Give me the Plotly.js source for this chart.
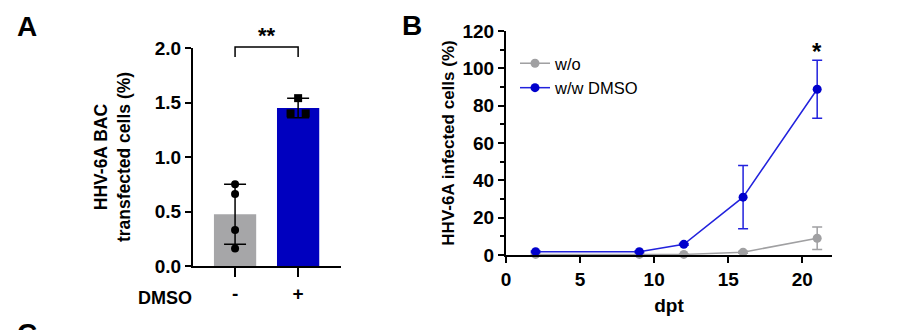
<!DOCTYPE html>
<html>
<head>
<meta charset="utf-8">
<script src="https://cdn.plot.ly/plotly-3.0.1.min.js"></script>
<style>html,body{margin:0;padding:0;background:#fff;}#chart{width:920px;height:330px;}</style>
</head>
<body>
<div id="chart"></div>
<script>
// Panel A data
const aCategories = ['-', '+'];
const aMeans = [0.475, 1.45];
const aSD = [0.275, 0.09];
const aPointsNeg = [0.75, 0.66, 0.33, 0.16];
const aPointsPos = [1.54, 1.40, 1.40];
const aJitterPos = [0, -0.12, 0.12];
// Panel B data
const bDays = [2, 9, 12, 16, 21];
const bWoMean = [0.3, 0.3, 0.3, 1.5, 9];
const bWoSD = [0.2, 0.2, 0.2, 0.5, 6];
const bDmsoMean = [1.8, 1.8, 5.7, 31, 88.8];
const bDmsoSD = [0.3, 0.3, 0.5, 17, 15.5];

const W = 920, H = 330;
const px = v => v / W;
const py = v => 1 - v / H;
const FONT = 'Liberation Sans, Arial, sans-serif';
const bold = (size) => ({family: FONT, size: size, color: '#000', weight: 'bold'});

const traces = [
  {
    type: 'bar', x: [0, 1], y: aMeans, xaxis: 'x', yaxis: 'y',
    width: 0.67,
    marker: {color: ['#a6a6a8', '#0000bf'], line: {width: 0}},
    error_y: {type: 'data', array: aSD, visible: true, color: '#000', thickness: 1.5, width: 11},
    showlegend: false, hoverinfo: 'skip'
  },
  {
    type: 'scatter', mode: 'markers', x: aPointsNeg.map(() => 0), y: aPointsNeg,
    xaxis: 'x', yaxis: 'y',
    marker: {symbol: 'circle', size: 8, color: '#000'}, showlegend: false, hoverinfo: 'skip'
  },
  {
    type: 'scatter', mode: 'markers', x: aJitterPos.map(j => 1 + j), y: aPointsPos,
    xaxis: 'x', yaxis: 'y',
    marker: {symbol: 'square', size: 8, color: '#000'}, showlegend: false, hoverinfo: 'skip'
  },
  {
    type: 'scatter', mode: 'lines+markers', name: 'w/o', x: bDays, y: bWoMean,
    xaxis: 'x2', yaxis: 'y2',
    line: {color: '#a0a0a2', width: 1.5},
    marker: {color: '#a0a0a2', size: 9},
    error_y: {type: 'data', array: bWoSD, visible: true, color: '#a0a0a2', thickness: 1.5, width: 5},
    cliponaxis: false
  },
  {
    type: 'scatter', mode: 'lines+markers', name: 'w/w DMSO', x: bDays, y: bDmsoMean,
    xaxis: 'x2', yaxis: 'y2',
    line: {color: '#2222dd', width: 1.5},
    marker: {color: '#0000cc', size: 9},
    error_y: {type: 'data', array: bDmsoSD, visible: true, color: '#2222dd', thickness: 1.5, width: 5},
    cliponaxis: false
  }
];

const axisCommon = {
  showline: true, linecolor: '#000', linewidth: 2,
  ticks: 'outside', tickcolor: '#000', tickwidth: 2, ticklen: 6,
  showgrid: false, zeroline: false, tickfont: bold(19), fixedrange: true
};

const layout = {
  width: W, height: H,
  margin: {l: 0, r: 0, t: 0, b: 0},
  paper_bgcolor: '#fff', plot_bgcolor: 'rgba(0,0,0,0)',
  font: {family: FONT, color: '#000'},
  xaxis: Object.assign({}, axisCommon, {
    domain: [px(193), px(341)], range: [-0.667, 1.68],
    tickmode: 'array', tickvals: [0, 1], ticktext: aCategories, ticklen: 9,
    tickfont: bold(19), anchor: 'y'
  }),
  yaxis: Object.assign({}, axisCommon, {
    domain: [py(266), py(48)], range: [0, 2], dtick: 0.5, tickformat: '.1f', anchor: 'x',
    title: {text: 'HHV-6A BAC<br>transfected cells (%)', font: bold(17.5), standoff: 20}
  }),
  xaxis2: Object.assign({}, axisCommon, {
    domain: [px(506), px(832)], range: [0, 22], dtick: 5, anchor: 'y2',
    title: {text: 'dpt', font: bold(19), standoff: 10}
  }),
  yaxis2: Object.assign({}, axisCommon, {
    domain: [py(255), py(31)], range: [0, 120], dtick: 20, anchor: 'x2',
    minor: {ticks: 'outside', ticklen: 4, tickwidth: 2, tickcolor: '#000', dtick: 10, showgrid: false},
    title: {text: 'HHV-6A infected cells (%)', font: bold(17), standoff: 4}
  }),
  legend: {
    x: px(515), y: py(46), xanchor: 'left', yanchor: 'top',
    font: {family: FONT, size: 16.5, color: '#000'}, bgcolor: 'rgba(0,0,0,0)',
    tracegroupgap: 6, itemwidth: 30
  },
  shapes: [
    {type: 'path', xref: 'x', yref: 'paper',
     path: 'M 0,' + py(57) + ' L 0,' + py(47) + ' L 1,' + py(47) + ' L 1,' + py(57),
     line: {color: '#000', width: 1.5}}
  ],
  annotations: [
    {text: '**', xref: 'x', yref: 'paper', x: 0.5, y: py(35), yanchor: 'middle', showarrow: false, font: bold(22)},
    {text: '*', xref: 'x2', yref: 'y2', x: 21, y: 109, yanchor: 'middle', showarrow: false, font: bold(24)},
    {text: 'A', xref: 'paper', yref: 'paper', x: px(15), y: py(9), xanchor: 'left', yanchor: 'top', showarrow: false, font: bold(28)},
    {text: 'B', xref: 'paper', yref: 'paper', x: px(400), y: py(8), xanchor: 'left', yanchor: 'top', showarrow: false, font: bold(28)},
    {text: 'C', xref: 'paper', yref: 'paper', x: px(15), y: py(316), xanchor: 'left', yanchor: 'top', showarrow: false, font: bold(28)},
    {text: 'DMSO', xref: 'paper', yref: 'paper', x: px(165), y: py(298), xanchor: 'center', yanchor: 'middle', showarrow: false, font: bold(18)}
  ]
};

Plotly.newPlot('chart', traces, layout, {displayModeBar: false, staticPlot: true});
</script>
</body>
</html>
